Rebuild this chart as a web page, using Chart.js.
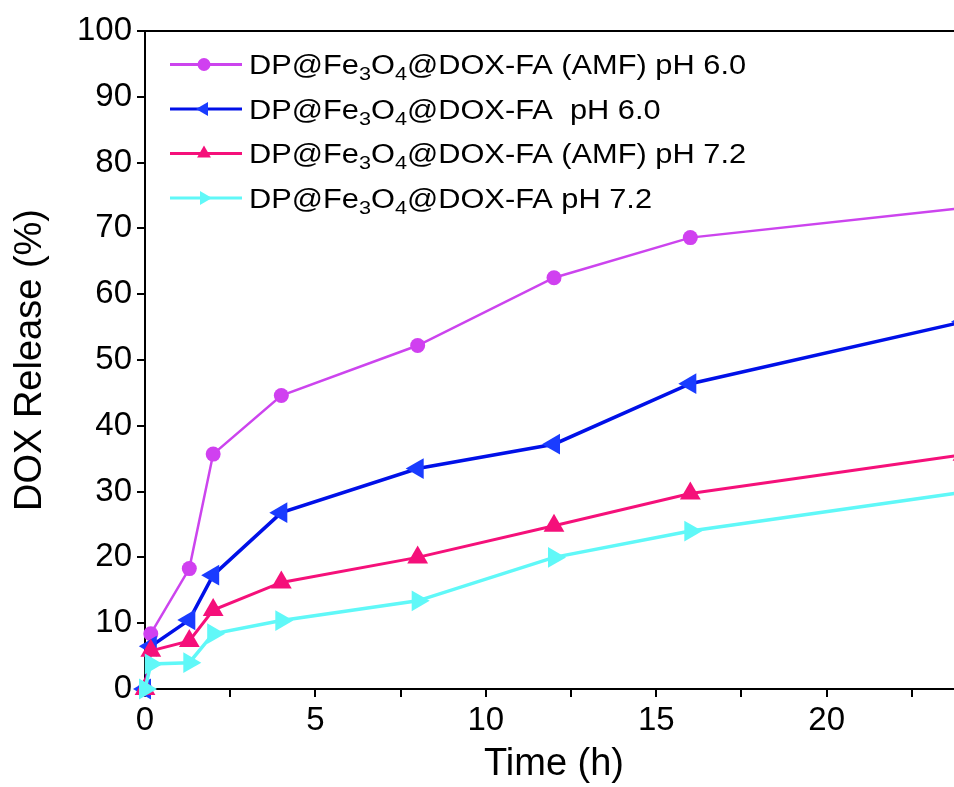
<!DOCTYPE html>
<html><head><meta charset="utf-8">
<script src="https://cdn.jsdelivr.net/npm/chart.js@4/dist/chart.umd.min.js"></script>
<style>
html,body{margin:0;padding:0;background:#fff;overflow:hidden;width:954px;height:787px}
#wrap{position:relative;width:975px;height:787px}
</style></head>
<body><div id="wrap"><canvas id="c"></canvas></div>
<script>
// ---- data ----
const timeHours = [0, 0.17, 1.3, 2, 4, 8, 12, 16, 24];
const amfPH60   = [0, 8.4, 18.3, 35.7, 44.6, 52.2, 62.5, 68.6, 73.1];
const plainPH60 = [0, 6.5, 10.5, 17.3, 26.8, 33.5, 37.2, 46.4, 55.8];
const amfPH72   = [0, 5.8, 7.3, 12.0, 16.2, 20.0, 24.8, 29.7, 35.6];
const plainPH72 = [0, 3.8, 4.0, 8.4, 10.4, 13.4, 20.0, 24.0, 29.9];
const seriesNames = [
  'DP@Fe3O4@DOX-FA (AMF) pH 6.0',
  'DP@Fe3O4@DOX-FA  pH 6.0',
  'DP@Fe3O4@DOX-FA (AMF) pH 7.2',
  'DP@Fe3O4@DOX-FA pH 7.2'
];
const xAxisTitle = 'Time (h)';
const yAxisTitle = 'DOX Release (%)';

const FONT = "'Liberation Sans', Arial, sans-serif";
const toXY = vals => vals.map((v, i) => ({x: timeHours[i], y: v}));

const styles = [
  {line: '#CC44EE', fill: '#D040F0', pointStyle: 'circle', rot: 0, r: 7.5, lr: 6.5, w: 2.5, order: 3},
  {line: '#0010E8', fill: '#1A3CFF', pointStyle: 'triangle', rot: -90, r: 12, lr: 8, w: 3.5, order: 2},
  {line: '#F5107A', fill: '#F5107A', pointStyle: 'triangle', rot: 0, r: 12, lr: 8, w: 3, order: 1},
  {line: '#60F8F8', fill: '#60F8F8', pointStyle: 'triangle', rot: 90, r: 12, lr: 8, w: 3.5, order: 0}
];
const seriesValues = [amfPH60, plainPH60, amfPH72, plainPH72];

const datasets = seriesValues.map((vals, i) => ({
  label: seriesNames[i],
  data: toXY(vals),
  borderColor: styles[i].line,
  backgroundColor: styles[i].fill,
  pointBackgroundColor: styles[i].fill,
  pointBorderColor: styles[i].fill,
  pointBorderWidth: 0,
  pointStyle: styles[i].pointStyle,
  pointRotation: styles[i].rot,
  pointRadius: styles[i].r,
  borderWidth: styles[i].w,
  tension: 0,
  clip: false,
  order: styles[i].order
}));

const framePlugin = {
  id: 'frame',
  afterDatasetsDraw(chart) {
    const {ctx, chartArea: a} = chart;
    ctx.save();
    ctx.strokeStyle = '#000';
    ctx.lineWidth = 2;
    ctx.beginPath();
    ctx.moveTo(a.left - 1, a.top);
    ctx.lineTo(a.right, a.top);
    ctx.lineTo(a.right, a.bottom);
    ctx.stroke();
    ctx.restore();
  }
};

const legendPlugin = {
  id: 'customLegend',
  afterDraw(chart) {
    const ctx = chart.ctx;
    const fs = 27;
    const sx = 1.14;
    ctx.save();
    chart.data.datasets.forEach((ds, i) => {
      const st = styles[i];
      const y = 64.5 + i * 44.5;
      ctx.strokeStyle = st.line;
      ctx.lineWidth = 3;
      ctx.beginPath();
      ctx.moveTo(170, y);
      ctx.lineTo(242, y);
      ctx.stroke();
      ctx.fillStyle = st.fill;
      ctx.strokeStyle = st.fill;
      Chart.helpers.drawPoint(ctx, {pointStyle: st.pointStyle, rotation: st.rot, radius: st.lr, borderWidth: 0}, 204, y);
      ctx.save();
      ctx.translate(249, 0);
      ctx.scale(sx, 1);
      let x = 0;
      ctx.fillStyle = '#000';
      ctx.textBaseline = 'alphabetic';
      ctx.textAlign = 'left';
      const parts = ds.label.split(/(?<=Fe|O)(\d)/);
      parts.forEach((p, k) => {
        if (!p) return;
        if (k % 2 === 1) {
          ctx.font = `${Math.round(fs * 0.7)}px ${FONT}`;
          ctx.fillText(p, x, y + 15.5);
        } else {
          ctx.font = `${fs}px ${FONT}`;
          ctx.fillText(p, x, y + 9.5);
        }
        x += ctx.measureText(p).width;
      });
      ctx.restore();
    });
    ctx.restore();
  }
};

new Chart(document.getElementById('c'), {
  type: 'line',
  data: {datasets},
  options: {
    responsive: true,
    maintainAspectRatio: false,
    animation: false,
    devicePixelRatio: 1,
    layout: {padding: {top: 31, right: 12, bottom: 0, left: 0}},
    plugins: {legend: {display: false}, tooltip: {enabled: false}},
    scales: {
      x: {
        type: 'linear',
        min: 0, max: 24,
        afterFit(s) { s.height = 98; },
        border: {display: true, color: '#000', width: 2},
        grid: {display: true, drawOnChartArea: false, drawTicks: true, tickLength: 8, color: '#000', lineWidth: 2},
        ticks: {
          stepSize: 2.5,
          includeBounds: false,
          autoSkip: false,
          maxRotation: 0,
          color: '#000',
          padding: 4,
          font: {family: FONT, size: 33},
          callback: v => (v % 5 === 0 ? String(v) : '')
        },
        title: {display: true, text: xAxisTitle, color: '#000', font: {family: FONT, size: 38}, padding: {top: 0, bottom: 0}}
      },
      y: {
        min: 0, max: 100,
        afterFit(s) { s.width = 145; },
        border: {display: true, color: '#000', width: 2},
        grid: {display: true, drawOnChartArea: false, drawTicks: true, tickLength: 8, color: '#000', lineWidth: 2},
        ticks: {stepSize: 10, color: '#000', padding: 5, font: {family: FONT, size: 33}},
        title: {display: true, text: yAxisTitle, color: '#000', font: {family: FONT, size: 38}, padding: {top: 8, bottom: 0}}
      }
    }
  },
  plugins: [framePlugin, legendPlugin]
});
</script>
</body></html>
